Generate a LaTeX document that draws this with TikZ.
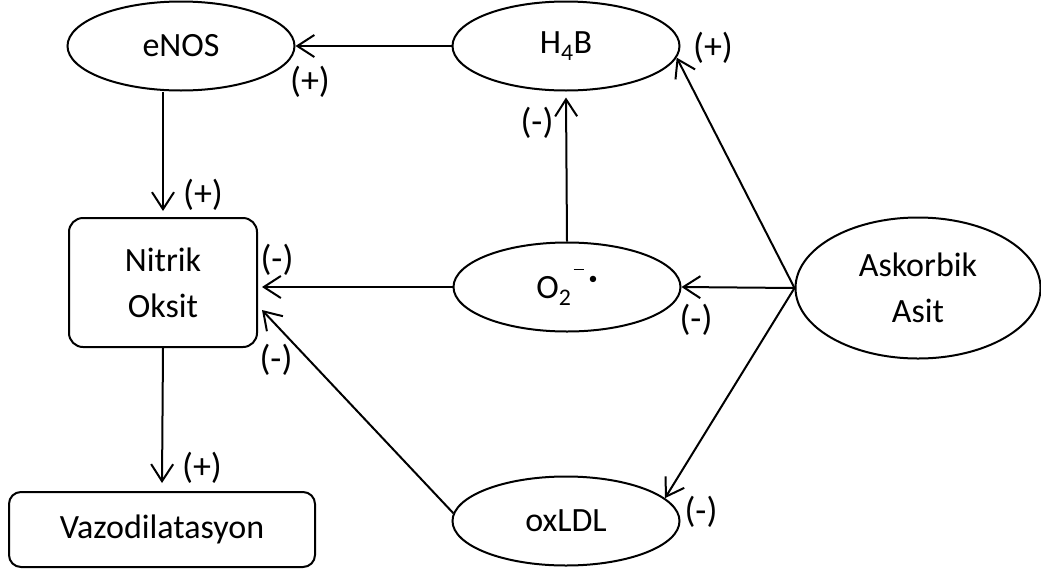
\documentclass[tikz,border=0pt]{standalone}
\usepackage{fontspec}
\setmainfont{Carlito}
\usetikzlibrary{shapes.geometric,arrows.meta,calc}
\begin{document}
\begin{tikzpicture}[x=1pt,y=-1pt,
  line width=2pt,
  every node/.style={font=\fontsize{34}{46}\selectfont},
  oval/.style={draw, ellipse, inner sep=0pt, minimum width=227pt, minimum height=89pt, align=center},
  box/.style={draw, rounded corners=14pt, inner sep=0pt, align=center},
  link/.style={-{Straight Barb[length=17pt,width=22pt,line width=2pt]}},
  sign/.style={inner sep=0pt, font=\fontsize{36}{40}\selectfont}
]
\useasboundingbox (0,0) rectangle (1041,571);

% main species
\node[oval] (enos) at (181,46) {eNOS};
\node[oval] (h4b) at (566,46) {H\textsubscript{4}B};
\node[oval] (o2) at (567,287) {O\textsubscript{2}\hspace{2pt}\raisebox{28pt}{\rule{10pt}{1.8pt}}\hspace{5pt}\raisebox{14pt}{\fontsize{18}{18}\selectfont •}};
\node[oval] (oxldl) at (566,521) {oxLDL};
\node[draw, ellipse, inner sep=0pt, minimum width=245pt, minimum height=141pt, align=center] (ask) at (918,288) {Askorbik\\Asit};
\node[box, minimum width=188pt, minimum height=129pt] (no) at (163,282.5) {Nitrik\\Oksit};
\node[box, rounded corners=12pt, minimum width=306pt, minimum height=75pt] (vazo) at (162,529.5) {Vazodilatasyon};

% effects
\draw[link] (h4b.west) -- (enos.east);
\draw[link] (enos.south -| no.north) -- ([yshift=6pt]no.north);
\draw[link] (no.south) -- ([yshift=8pt]vazo.north);
\draw[link] (o2.north) -- ([yshift=-6pt]h4b.south);
\draw[link] (o2.west) -- ($(no.east |- o2.west)+(4,0)$);
\draw[link] (oxldl.176) -- ($(no.east)+(4,27.5)$);
\draw[link] (ask.west) -- (h4b.-6);
\draw[link] (ask.west) -- (o2.east);
\draw[link] (ask.west) -- (oxldl.13);

% signs
\node[sign] (s1) at (310,82) {(+)};
\node[sign] (s2) at (203,195) {(+)};
\node[sign] (s3) at (277,260) {(-)};
\node[sign] (s4) at (276,360) {(-)};
\node[sign] (s5) at (202,468) {(+)};
\node[sign] (s6) at (713,48) {(+)};
\node[sign] (s7) at (537,123) {(-)};
\node[sign] (s8) at (696,320) {(-)};
\node[sign] (s9) at (701,512) {(-)};
\end{tikzpicture}
\end{document}
